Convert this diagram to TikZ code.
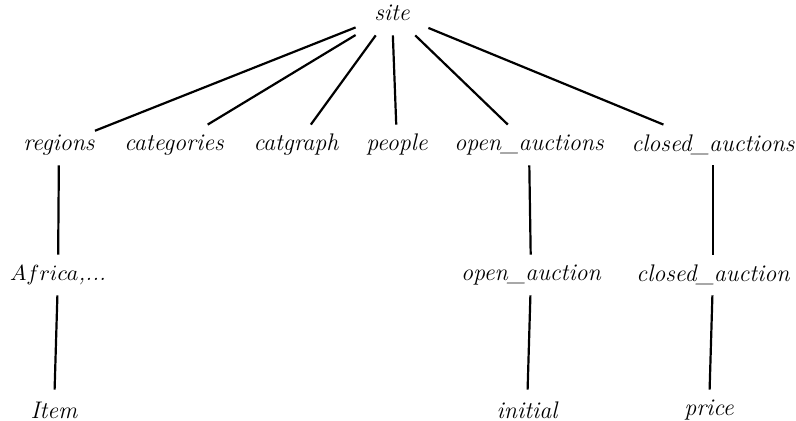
\documentclass[tikz,border=0pt]{standalone}
\begin{document}
\begin{tikzpicture}[x=0.5pt,y=-0.5pt,
  lbl/.style={font=\fontsize{12}{14}\selectfont\itshape, inner sep=0pt, minimum height=20pt},
  edge/.style={line width=1.1pt}]
\useasboundingbox (0,0) rectangle (796,421);
\node[lbl, minimum width=36pt, minimum height=22pt] (site) at (392,13) {site};
\node[lbl] (regions) at (59,145) {regions};
\node[lbl] (categories) at (174,145) {categories};
\node[lbl] (catgraph) at (296,145) {catgraph};
\node[lbl] (people) at (397,145) {people};
\node[lbl] (openas) at (529,145) {open\_auctions};
\node[lbl] (closedas) at (713,145) {closed\_auctions};
\node[lbl] (africa) at (58,275) {\fontsize{11.4}{14}\selectfont$Africa$,...};
\node[lbl] (opena) at (531,275) {open\_auction};
\node[lbl] (closeda) at (713,275) {closed\_auction};
\node[lbl] (item) at (54,410) {Item};
\node[lbl] (initial) at (527,410) {initial};
\node[lbl] (price) at (709,410) {price};
\foreach \t in {regions,categories,catgraph,people,openas,closedas}
  \draw[edge] (site) -- (\t);
\draw[edge] (regions) -- (africa);
\draw[edge] (africa) -- (item);
\draw[edge] (openas) -- (opena);
\draw[edge] (opena) -- (initial);
\draw[edge] (closedas) -- (closeda);
\draw[edge] (closeda) -- (price);
\end{tikzpicture}
\end{document}
